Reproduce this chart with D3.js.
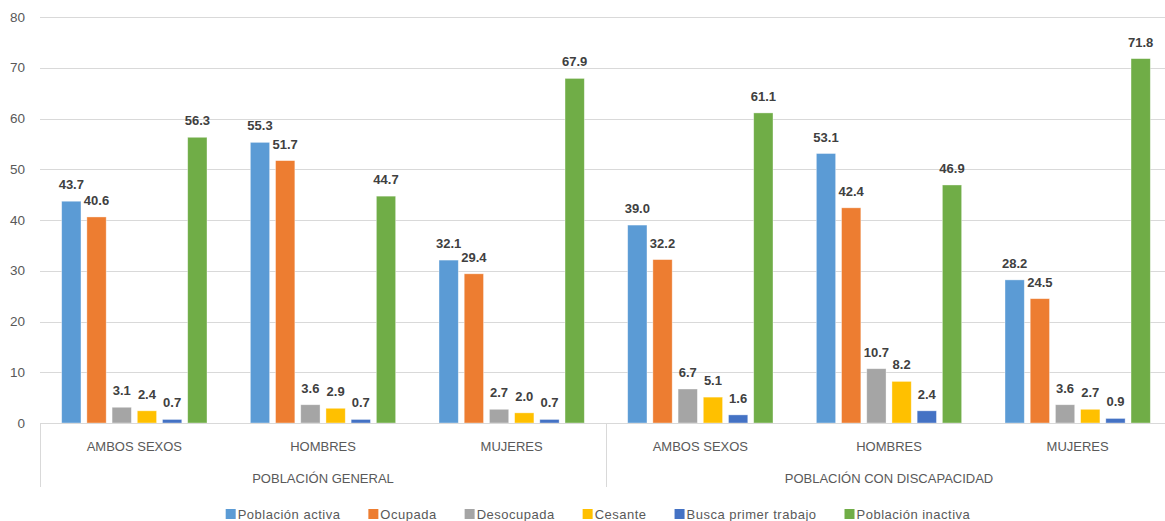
<!DOCTYPE html>
<html>
<head>
<meta charset="utf-8">
<script src="https://cdn.jsdelivr.net/npm/d3@7"></script>
<style>
  html, body { margin: 0; padding: 0; background: #fff; }
  svg { display: block; font-family: "Liberation Sans", Arial, sans-serif; }
</style>
</head>
<body>
<svg id="chart" width="1165" height="521"></svg>
<script>
// Grupos de población y subgrupos por sexo
const groups = ["POBLACIÓN GENERAL", "POBLACIÓN CON DISCAPACIDAD"];
const sexes = ["AMBOS SEXOS", "HOMBRES", "MUJERES"];

// Series (porcentajes) en el orden: general (ambos, hombres, mujeres), discapacidad (ambos, hombres, mujeres)
const seriesNames = ["Población activa", "Ocupada", "Desocupada", "Cesante", "Busca primer trabajo", "Población inactiva"];
const activa    = [43.7, 55.3, 32.1, 39.0, 53.1, 28.2];
const ocupada   = [40.6, 51.7, 29.4, 32.2, 42.4, 24.5];
const desocupada= [3.1, 3.6, 2.7, 6.7, 10.7, 3.6];
const cesante   = [2.4, 2.9, 2.0, 5.1, 8.2, 2.7];
const busca     = [0.7, 0.7, 0.7, 1.6, 2.4, 0.9];
const inactiva  = [56.3, 44.7, 67.9, 61.1, 46.9, 71.8];
const colors = ["#5B9BD5", "#ED7D31", "#A5A5A5", "#FFC000", "#4472C4", "#70AD47"];
const yTicks = [0, 10, 20, 30, 40, 50, 60, 70, 80];

const seriesValues = [activa, ocupada, desocupada, cesante, busca, inactiva];

// Categorías combinadas (grupo + sexo)
const cats = [];
groups.forEach(g => sexes.forEach(s => cats.push({ group: g, sex: s, key: g + "|" + s })));

const svg = d3.select("#chart");
const plotLeft = 40, plotRight = 1172, plotTop = 17, plotBottom = 423;

const y = d3.scaleLinear().domain([0, 80]).range([plotBottom, plotTop]);
const x0 = d3.scaleBand().domain(cats.map(c => c.key)).range([plotLeft, plotRight]).padding(0);
const x1 = d3.scaleBand().domain(seriesNames).range([0, x0.bandwidth()])
  .paddingInner(0.234).paddingOuter(0.86);

// Líneas de cuadrícula
svg.append("g").selectAll("line").data(yTicks.filter(t => t > 0)).join("line")
  .attr("x1", plotLeft).attr("x2", plotRight)
  .attr("y1", d => Math.round(y(d)) + 0.5).attr("y2", d => Math.round(y(d)) + 0.5)
  .attr("stroke", "#D9D9D9").attr("stroke-width", 1);

// Etiquetas del eje Y
svg.append("g").selectAll("text").data(yTicks).join("text")
  .attr("x", 25).attr("y", d => y(d)).attr("dy", "0.35em")
  .attr("text-anchor", "end").attr("fill", "#595959")
  .attr("font-size", 13.5).text(d => d);

// Barras
const barsG = svg.append("g");
cats.forEach((c, ci) => {
  seriesNames.forEach((s, si) => {
    const v = seriesValues[si][ci];
    const bx = x0(c.key) + x1(s);
    barsG.append("rect")
      .attr("x", bx).attr("width", x1.bandwidth())
      .attr("y", y(v)).attr("height", y(0) - y(v))
      .attr("fill", colors[si])
      .attr("stroke", "#fff").attr("stroke-opacity", 0.5).attr("stroke-width", 0.75);
    barsG.append("text")
      .attr("x", bx + x1.bandwidth() / 2).attr("y", y(v) - 12)
      .attr("text-anchor", "middle").attr("font-size", 13).attr("font-weight", "bold")
      .attr("fill", "#404040").text(v.toFixed(1));
  });
});

// Eje X de varios niveles
const axisG = svg.append("g").attr("stroke", "#D9D9D9").attr("stroke-width", 1);
axisG.append("line").attr("x1", plotLeft).attr("x2", plotRight).attr("y1", plotBottom + 0.5).attr("y2", plotBottom + 0.5);
[0, 3, 6].forEach(i => {
  const xx = i < 6 ? x0(cats[i].key) : plotRight;
  axisG.append("line").attr("x1", Math.round(xx) + 0.5).attr("x2", Math.round(xx) + 0.5).attr("y1", plotBottom).attr("y2", 487);
});

svg.append("g").selectAll("text").data(cats).join("text")
  .attr("x", d => x0(d.key) + x0.bandwidth() / 2).attr("y", 450.5)
  .attr("text-anchor", "middle").attr("fill", "#595959").attr("font-size", 13)
  .text(d => d.sex);

svg.append("g").selectAll("text").data(groups).join("text")
  .attr("x", (d, i) => (x0(cats[i * 3].key) + x0(cats[i * 3 + 2].key) + x0.bandwidth()) / 2)
  .attr("y", 482.5)
  .attr("text-anchor", "middle").attr("fill", "#595959").attr("font-size", 13)
  .text(d => d);

// Leyenda
const legend = svg.append("g");
let lx = 0;
const items = [];
const legendGap = 28;
seriesNames.forEach((s, i) => {
  const g = legend.append("g");
  g.append("rect").attr("x", 0).attr("y", 509).attr("width", 10).attr("height", 10).attr("fill", colors[i]);
  const t = g.append("text").attr("x", 12).attr("y", 518.5).attr("fill", "#595959")
    .attr("font-size", 13).attr("letter-spacing", 0.5).text(s);
  const w = 12 + t.node().getComputedTextLength();
  items.push({ g, x: lx });
  lx += w + legendGap;
});
const total = lx - legendGap;
const startX = 598 - total / 2;
items.forEach(it => it.g.attr("transform", `translate(${startX + it.x},0)`));
</script>
</body>
</html>
